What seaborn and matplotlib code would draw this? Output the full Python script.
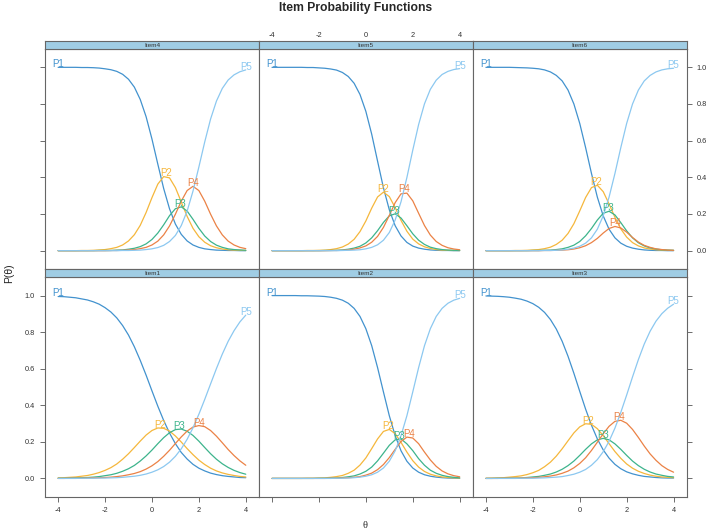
import numpy as np
import pandas as pd
import matplotlib
matplotlib.use("Agg")
import matplotlib.pyplot as plt
import seaborn as sns

# trace lines, P(theta) in per mille, rows = P1..P5
theta = [-4.0, -3.75, -3.5, -3.25, -3.0, -2.75, -2.5, -2.25, -2.0, -1.75, -1.5,
         -1.25, -1.0, -0.75, -0.5, -0.25, 0.0, 0.25, 0.5, 0.75, 1.0, 1.25, 1.5,
         1.75, 2.0, 2.25, 2.5, 2.75, 3.0, 3.25, 3.5, 3.75, 4.0]
categories = ["P1", "P2", "P3", "P4", "P5"]

item1 = [
    [995, 994, 991, 988, 982, 976, 966, 953, 934, 910, 878, 836, 784, 720, 646, 565, 479, 395, 317, 248, 190, 142, 106, 77, 56, 41, 29, 21, 15, 11, 8, 5, 4],
    [3, 4, 6, 8, 12, 16, 23, 32, 44, 59, 79, 105, 135, 169, 204, 237, 262, 276, 274, 259, 232, 199, 163, 130, 100, 76, 56, 41, 30, 22, 16, 11, 8],
    [1, 1, 2, 3, 4, 5, 7, 10, 15, 20, 28, 39, 53, 71, 95, 123, 155, 190, 223, 250, 267, 270, 258, 235, 204, 169, 135, 105, 80, 60, 44, 32, 23],
    [0, 0, 1, 1, 1, 2, 3, 4, 5, 7, 10, 14, 20, 27, 37, 51, 69, 92, 121, 154, 191, 227, 259, 281, 289, 283, 262, 231, 195, 158, 125, 96, 72],
    [0, 0, 0, 0, 1, 1, 1, 2, 2, 3, 4, 6, 9, 12, 17, 24, 34, 47, 65, 89, 121, 162, 214, 277, 351, 432, 517, 601, 680, 750, 808, 856, 893],
]
item2 = [
    [1000, 1000, 1000, 1000, 1000, 999, 999, 998, 997, 995, 991, 985, 975, 958, 930, 886, 819, 726, 606, 473, 343, 234, 151, 94, 57, 34, 20, 12, 7, 4, 2, 1, 1],
    [0, 0, 0, 0, 0, 0, 1, 1, 2, 3, 6, 10, 16, 28, 45, 73, 112, 163, 216, 257, 268, 245, 197, 144, 97, 62, 38, 23, 14, 8, 5, 3, 2],
    [0, 0, 0, 0, 0, 0, 0, 0, 1, 1, 2, 3, 5, 9, 14, 24, 39, 62, 96, 138, 181, 211, 216, 189, 152, 108, 72, 45, 28, 17, 10, 6, 3],
    [0, 0, 0, 0, 0, 0, 0, 0, 0, 0, 1, 1, 2, 4, 6, 10, 18, 29, 48, 76, 114, 159, 202, 226, 221, 190, 144, 101, 66, 41, 25, 15, 9],
    [0, 0, 0, 0, 0, 0, 0, 0, 0, 0, 0, 1, 1, 2, 4, 7, 12, 20, 34, 57, 94, 151, 234, 343, 473, 606, 726, 819, 886, 930, 958, 975, 985],
]
item3 = [
    [998, 997, 996, 994, 991, 986, 980, 970, 956, 936, 908, 869, 817, 750, 668, 575, 476, 379, 291, 216, 156, 111, 77, 53, 36, 25, 17, 11, 8, 5, 3, 2, 2],
    [1, 2, 3, 4, 7, 10, 14, 21, 31, 44, 64, 89, 122, 162, 206, 249, 282, 299, 296, 272, 234, 190, 147, 110, 79, 56, 39, 27, 18, 12, 8, 6, 4],
    [0, 0, 1, 1, 2, 2, 3, 5, 8, 11, 17, 24, 35, 50, 70, 95, 126, 159, 189, 211, 219, 211, 189, 159, 126, 95, 70, 50, 35, 24, 17, 11, 8],
    [0, 0, 0, 1, 1, 1, 2, 3, 4, 6, 9, 13, 19, 28, 40, 58, 82, 113, 153, 198, 244, 285, 312, 318, 302, 268, 224, 177, 134, 99, 70, 49, 34],
    [0, 0, 0, 0, 0, 0, 1, 1, 1, 2, 3, 5, 7, 10, 16, 23, 34, 49, 72, 103, 146, 203, 275, 361, 456, 555, 650, 735, 805, 860, 901, 931, 953],
]
item4 = [
    [1000, 1000, 1000, 1000, 999, 999, 998, 996, 992, 987, 978, 962, 935, 892, 825, 731, 609, 472, 339, 228, 145, 89, 53, 31, 18, 10, 6, 3, 2, 1, 1, 0, 0],
    [0, 0, 0, 0, 1, 1, 2, 4, 6, 11, 18, 31, 53, 87, 138, 208, 289, 363, 404, 397, 344, 266, 187, 122, 76, 46, 27, 16, 9, 5, 3, 2, 1],
    [0, 0, 0, 0, 0, 0, 0, 1, 1, 1, 3, 4, 8, 13, 22, 37, 61, 96, 141, 191, 229, 239, 216, 171, 122, 80, 50, 30, 18, 10, 6, 4, 2],
    [0, 0, 0, 0, 0, 0, 0, 0, 0, 1, 1, 2, 4, 6, 11, 18, 31, 52, 86, 135, 199, 270, 328, 351, 328, 270, 199, 135, 86, 52, 31, 18, 11],
    [0, 0, 0, 0, 0, 0, 0, 0, 0, 0, 0, 1, 1, 2, 3, 6, 10, 17, 29, 50, 83, 137, 216, 325, 456, 593, 718, 816, 885, 931, 959, 976, 986],
]
item5 = [
    [1000, 1000, 1000, 1000, 1000, 1000, 999, 999, 997, 995, 991, 985, 972, 950, 913, 852, 760, 635, 488, 343, 223, 136, 80, 45, 25, 14, 8, 4, 2, 1, 1, 0, 0],
    [0, 0, 0, 0, 0, 0, 1, 1, 2, 3, 6, 11, 20, 36, 62, 104, 162, 232, 293, 319, 295, 235, 165, 106, 63, 37, 21, 12, 6, 3, 2, 1, 1],
    [0, 0, 0, 0, 0, 0, 0, 0, 0, 1, 1, 2, 4, 8, 14, 24, 42, 70, 109, 154, 190, 201, 178, 136, 92, 57, 34, 19, 11, 6, 3, 2, 1],
    [0, 0, 0, 0, 0, 0, 0, 0, 0, 0, 1, 1, 2, 4, 8, 15, 26, 46, 78, 127, 192, 262, 310, 314, 272, 204, 137, 85, 50, 29, 16, 9, 5],
    [0, 0, 0, 0, 0, 0, 0, 0, 0, 0, 0, 0, 1, 2, 3, 5, 10, 18, 32, 57, 99, 167, 267, 399, 548, 688, 801, 880, 930, 961, 978, 988, 993],
]
item6 = [
    [1000, 1000, 1000, 1000, 1000, 999, 998, 997, 995, 992, 986, 975, 956, 926, 876, 800, 694, 562, 421, 292, 190, 117, 70, 41, 24, 14, 8, 4, 2, 1, 1, 0, 0],
    [0, 0, 0, 0, 0, 1, 1, 2, 4, 6, 11, 19, 34, 57, 94, 147, 217, 290, 344, 357, 322, 255, 182, 119, 74, 44, 26, 15, 9, 5, 3, 2, 1],
    [0, 0, 0, 0, 0, 0, 0, 0, 1, 1, 2, 3, 6, 10, 18, 30, 50, 81, 121, 167, 204, 215, 195, 153, 108, 70, 43, 26, 15, 9, 5, 3, 2],
    [0, 0, 0, 0, 0, 0, 0, 0, 0, 0, 1, 1, 2, 3, 5, 9, 16, 27, 44, 67, 96, 121, 132, 124, 101, 72, 47, 29, 18, 10, 6, 3, 2],
    [0, 0, 0, 0, 0, 0, 0, 0, 0, 0, 1, 1, 2, 4, 8, 14, 24, 41, 70, 117, 190, 292, 421, 562, 694, 800, 876, 926, 956, 975, 986, 992, 995],
]

# lattice panel order: bottom row Item1-3, top row Item4-6
panels = [[("Item4", item4), ("Item5", item5), ("Item6", item6)],
          [("Item1", item1), ("Item2", item2), ("Item3", item3)]]

colors = ["#4292CE", "#F5B73C", "#3DB48C", "#EB8246", "#8CC8F0"]
x_ticks = [-4, -2, 0, 2, 4]
y_ticks = [0.0, 0.2, 0.4, 0.6, 0.8, 1.0]

sns.set_style("white")
plt.rcParams["font.family"] = ["Liberation Sans", "DejaVu Sans"]
plt.rcParams["axes.unicode_minus"] = False

W, H = 709, 531
fig = plt.figure(figsize=(W / 100, H / 100), dpi=100)
fig.patch.set_facecolor("white")

col_left = [45, 258.9, 472.8]
panel_w = 213.9
row_span = [(49, 269), (277.3, 496.7)]   # pixel top/bottom of each row
strip_h = 8.4
edge = "#666666"


def peak_pos(s):
    # label sits on top of the curve; refine interior peaks with a parabola
    s = np.asarray(s, dtype=float) / 1000
    i = int(np.argmax(s))
    if i == 0 or i == len(s) - 1:
        return theta[i], s[i]
    y0, y1, y2 = s[i - 1], s[i], s[i + 1]
    d = 0.5 * (y0 - y2) / (y0 - 2 * y1 + y2)
    return theta[i] + d * (theta[i + 1] - theta[i]), y1 - 0.25 * (y0 - y2) * d


for r, row in enumerate(panels):
    top_px, bot_px = row_span[r]
    for c, (name, item) in enumerate(row):
        ax = fig.add_axes([col_left[c] / W, 1 - bot_px / H, panel_w / W, (bot_px - top_px) / H])
        frames = []
        for cat, vals in zip(categories, item):
            frames.append(pd.DataFrame({"theta": theta, "P": np.array(vals) / 1000, "cat": cat}))
        df = pd.concat(frames, ignore_index=True)
        sns.lineplot(data=df, x="theta", y="P", hue="cat", palette=colors,
                     estimator=None, legend=False, linewidth=0.9, ax=ax)
        for k, vals in enumerate(item):
            px, py = peak_pos(vals)
            ax.text(px, py, categories[k], color=colors[k], ha="center",
                    va="baseline", fontsize=7)

        ax.set_xlim(-4.56, 4.56)
        ax.set_ylim(-0.1, 1.1)
        ax.set_xticks(x_ticks)
        ax.set_xticklabels([str(t) for t in x_ticks])
        ax.set_yticks(y_ticks)
        ax.set_yticklabels(["%.1f" % t for t in y_ticks])
        ax.set_xlabel("")
        ax.set_ylabel("")
        for sp in ax.spines.values():
            sp.set_color(edge)
            sp.set_linewidth(0.8)

        # lattice style: ticks only on the outer sides, labels alternate
        if r == 0:
            ax.tick_params(axis="x", bottom=False, labelbottom=False, top=True, labeltop=(c == 1))
        else:
            ax.tick_params(axis="x", bottom=True, labelbottom=(c != 1), top=False, labeltop=False)
        ax.tick_params(axis="y", left=(c == 0), labelleft=(c == 0 and r == 1),
                       right=(c == 2), labelright=(c == 2 and r == 0))
        ax.tick_params(which="both", direction="out", length=3.6, width=0.6,
                       color="#555555", labelcolor="#333333", labelsize=5.3, pad=3.6)

        # strip on top of each panel
        st = fig.add_axes([col_left[c] / W, 1 - top_px / H, panel_w / W, strip_h / H])
        st.set_facecolor("#A0CDE4")
        st.set_xticks([])
        st.set_yticks([])
        for sp in st.spines.values():
            sp.set_color(edge)
            sp.set_linewidth(0.8)
        st.text(0.5, 0.45, name, transform=st.transAxes, ha="center", va="center",
                fontsize=4.6, color="#333333")

fig.text(356 / W, 1 - 11 / H, "Item Probability Functions", ha="center",
         va="baseline", fontsize=8.7, fontweight="bold")
fig.text(9 / W, 1 - 273 / H, "P(θ)", rotation=90, ha="center", va="center",
         fontsize=7.5, color="#222222")
fig.text(365 / W, 1 - 526 / H, "θ", ha="center", va="center", fontsize=7.5,
         family=["Liberation Serif", "DejaVu Serif"], color="#222222")

fig.savefig("out.png", dpi=100, facecolor="white")
